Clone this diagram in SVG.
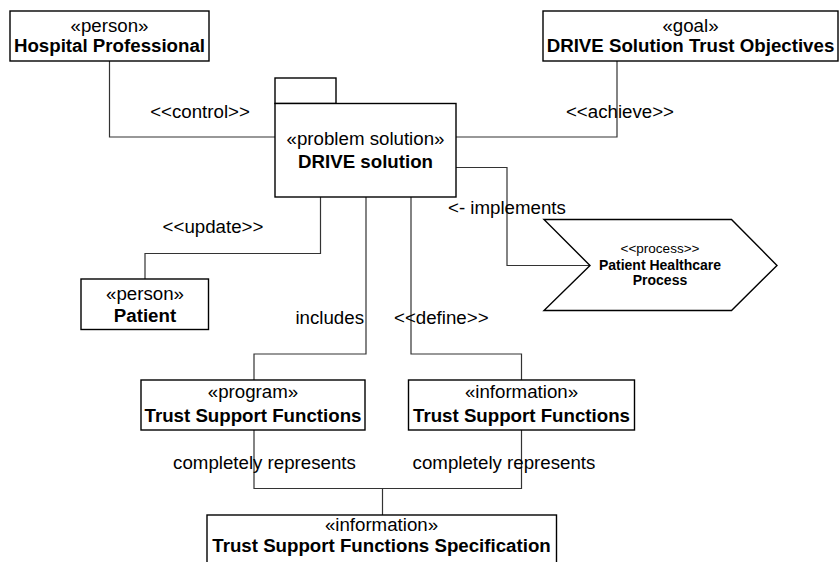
<svg xmlns="http://www.w3.org/2000/svg" width="839" height="562" viewBox="0 0 839 562">
<style>
.box{fill:#fff;stroke:#000;stroke-width:1.4}
.con{fill:none;stroke:#333;stroke-width:1.2}
text{font-family:"Liberation Sans",Arial,sans-serif;fill:#000}
.st{font-size:18.7px;text-anchor:middle}
.nm{font-size:18.7px;font-weight:bold;text-anchor:middle}
.lb{font-size:18.7px}
.sst{font-size:13.5px;text-anchor:middle}
.snm{font-size:14px;font-weight:bold;text-anchor:middle}
</style>
<rect width="839" height="562" fill="#fff"/>
<g id="connectors">
<polyline class="con" points="109.5,61 109.5,137 275,137"/>
<polyline class="con" points="617,61 617,137 456,137"/>
<polyline class="con" points="456,167.5 507,167.5 507,265.5 590,265.5"/>
<polyline class="con" points="320.5,197 320.5,253.5 145,253.5 145,279"/>
<polyline class="con" points="366,197 366,354 254,354 254,380"/>
<polyline class="con" points="411,197 411,354 521.5,354 521.5,380"/>
<polyline class="con" points="254,430 254,488.5 521.5,488.5 521.5,430"/>
<polyline class="con" points="382.5,488.5 382.5,515"/>
<text class="lb" x="200" y="118" text-anchor="middle">&lt;&lt;control&gt;&gt;</text>
<text class="lb" x="620" y="118" text-anchor="middle">&lt;&lt;achieve&gt;&gt;</text>
<text class="lb" x="448" y="213.5">&lt;- implements</text>
<text class="lb" x="213" y="233" text-anchor="middle">&lt;&lt;update&gt;&gt;</text>
<text class="lb" x="364" y="324" text-anchor="end">includes</text>
<text class="lb" x="394" y="324">&lt;&lt;define&gt;&gt;</text>
<text class="lb" x="264.5" y="469" text-anchor="middle">completely represents</text>
<text class="lb" x="504" y="469" text-anchor="middle">completely represents</text>
</g>
<g id="hospital-professional">
<rect class="box" x="10" y="11" width="199" height="50"/>
<text class="st" x="109.5" y="31.7">«person»</text>
<text class="nm" x="109.5" y="52">Hospital Professional</text>
</g>
<g id="goal">
<rect class="box" x="543" y="11" width="295" height="50"/>
<text class="st" x="690.5" y="31.7">«goal»</text>
<text class="nm" x="690.5" y="52">DRIVE Solution Trust Objectives</text>
</g>
<g id="drive-solution">
<rect class="box" x="275" y="78" width="61" height="25.5"/>
<rect class="box" x="275" y="103.5" width="181" height="93.5"/>
<text class="st" x="365.5" y="145">«problem solution»</text>
<text class="nm" x="365.5" y="167.5">DRIVE solution</text>
</g>
<g id="patient-healthcare-process">
<polygon class="box" points="544,219.5 731.5,219.5 777,265.5 731.5,310.5 544,310.5 590,265.5"/>
<text class="sst" x="660" y="252.5">&lt;&lt;process&gt;&gt;</text>
<text class="snm" x="660" y="270">Patient Healthcare</text>
<text class="snm" x="660" y="285">Process</text>
</g>
<g id="patient">
<rect class="box" x="81" y="279" width="127.5" height="50.5"/>
<text class="st" x="145" y="300">«person»</text>
<text class="nm" x="145" y="322">Patient</text>
</g>
<g id="program-tsf">
<rect class="box" x="141" y="380" width="224" height="50"/>
<text class="st" x="253" y="398.3">«program»</text>
<text class="nm" x="253" y="422">Trust Support Functions</text>
</g>
<g id="information-tsf">
<rect class="box" x="408.5" y="380" width="226" height="50"/>
<text class="st" x="521.5" y="398.3">«information»</text>
<text class="nm" x="521.5" y="422">Trust Support Functions</text>
</g>
<g id="tsf-specification">
<rect class="box" x="207" y="515" width="349.5" height="70"/>
<text class="st" x="381.5" y="530.5">«information»</text>
<text class="nm" x="381.5" y="552">Trust Support Functions Specification</text>
</g>
</svg>
